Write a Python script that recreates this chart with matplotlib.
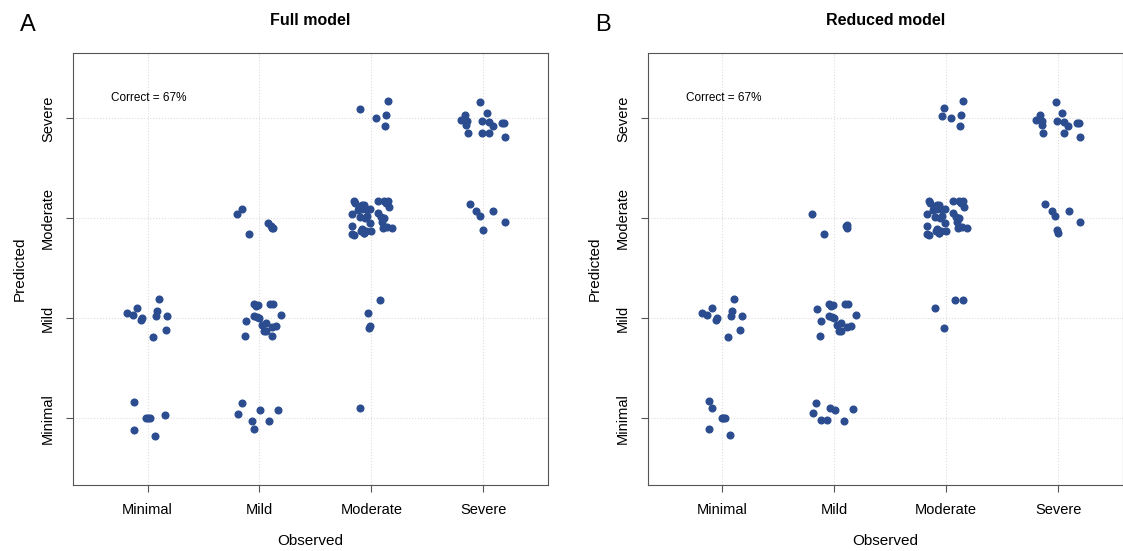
import matplotlib.pyplot as plt

plt.rcParams["font.family"] = ["Liberation Sans", "DejaVu Sans"]

categories = ["Minimal", "Mild", "Moderate", "Severe"]

# jitter offsets (dx, dy) per cell (observed, predicted)
full_model = {
    (1, 1): [(-.12, .167), (0, 0), (.02, 0), (-.015, 0), (.155, .033), (-.12, -.113), (.063, -.173)],
    (1, 2): [(-.18, .053), (-.134, .033), (-.096, .1), (-.05, .007), (-.054, -.02), (.104, .19),
             (.087, .07), (.072, .02), (.176, .027), (.161, -.12), (.051, -.19)],
    (2, 1): [(-.158, .153), (-.191, .047), (.009, .083), (.17, .087), (-.066, -.023), (.087, -.027), (-.051, -.11)],
    (2, 2): [(-.048, .14), (-.03, .123), (-.015, .133), (.093, .14), (.125, .147), (-.116, -.023),
             (-.051, .02), (-.018, .01), (-.003, .003), (.194, .033), (.021, -.07), (.057, -.043),
             (.039, -.127), (.06, -.13), (.113, -.087), (.146, -.077), (-.128, -.173), (.11, -.18)],
    (2, 3): [(-.197, .043), (-.152, .097), (-.096, -.16), (.075, -.047), (.104, -.073), (.119, -.093), (.11, -.1)],
    (3, 1): [(-.104, .1)],
    (3, 2): [(.08, .18), (-.027, .053), (-.015, -.08), (-.018, -.097)],
    (3, 3): [(-.155, .17), (-.143, .157), (-.11, .117), (-.087, .13), (-.069, .137), (-.122, .083),
             (-.081, .09), (-.051, .09), (-.015, .09), (.06, .17), (.11, .177), (.146, .17),
             (.158, .117), (.134, .15), (-.173, .04), (-.104, .017), (-.054, .007), (-.036, .023),
             (.057, .057), (.084, .01), (.11, .007), (-.015, -.05), (-.173, -.077), (-.081, -.107),
             (-.093, -.123), (-.069, -.143), (-.045, -.127), (0, -.127), (-.158, -.163),
             (-.173, -.16), (.104, -.097), (.137, -.09), (.182, -.093), (.096, -.04), (-.063, -.15)],
    (3, 4): [(-.104, .093), (.149, .17), (.042, 0), (.134, .033), (.122, -.073)],
    (4, 3): [(-.116, .14), (-.06, .073), (-.027, .02), (.09, .073), (-.003, -.12), (.194, -.037)],
    (4, 4): [(-.024, .163), (-.161, .033), (.036, .053), (-.197, -.017), (-.146, -.023), (-.149, -.063),
             (-.006, -.027), (.054, -.033), (.087, -.08), (.167, -.05), (.188, -.047), (-.134, -.147),
             (-.012, -.147), (.054, -.143), (.194, -.183)],
}

reduced_model = dict(full_model)
reduced_model.update({
    (1, 1): [(-.122, .17), (-.096, .1), (-.003, 0), (.021, 0), (.003, 0), (-.119, -.11), (.063, -.17)],
    (2, 1): [(-.161, .157), (-.194, .05), (-.039, .107), (.009, .087), (.17, .09), (-.116, -.02),
             (-.069, -.02), (.087, -.023)],
    (2, 2): full_model[(2, 2)][:-1] + [(-.152, .097)],
    (2, 3): [(-.197, .047), (-.096, -.157), (.107, -.077), (.116, -.097), (.11, -.067)],
    (3, 1): [],
    (3, 2): [(-.104, .103), (.081, .183), (.149, .183), (-.021, -.097)],
    (3, 4): [(-.018, .103), (.149, .17), (-.042, .023), (.039, .003), (.131, .033), (.122, -.073)],
    (4, 3): [(-.116, .14), (-.057, .073), (-.027, .02), (.093, .073), (-.006, -.12), (-.003, -.143), (.197, -.037)],
    (4, 4): [(-.021, .163), (-.158, .033), (.039, .053), (-.194, -.017), (-.143, -.023), (-.146, -.063),
             (-.006, -.027), (.054, -.033), (.087, -.08), (.17, -.05), (.191, -.047), (-.131, -.147),
             (.057, -.143), (.197, -.183)],
})

panels = [("A", "Full model", full_model, 0.065), ("B", "Reduced model", reduced_model, 0.577)]
color = "#2b4d8f"

fig = plt.figure(figsize=(11.23, 5.51), dpi=100)
for letter, title, cells, left in panels:
    ax = fig.add_axes([left, 0.12, 0.423, 0.784])
    xs, ys = [], []
    for (o, p), offs in cells.items():
        for dx, dy in offs:
            xs.append(o + dx)
            ys.append(p + dy)
    ax.plot(xs, ys, "o", color=color, markersize=4.8, zorder=3)
    ax.set_xlim(0.334, 4.58)
    ax.set_ylim(0.333, 4.656)
    ax.set_xticks(range(1, 5))
    ax.set_xticklabels(categories, fontsize=10.5)
    ax.set_yticks(range(1, 5))
    ax.set_yticklabels(categories, fontsize=10.5, rotation=90, va="center")
    ax.grid(True, color="#dddddd", linestyle=":", linewidth=0.8)
    for s in ax.spines.values():
        s.set_color("#555555")
    ax.tick_params(length=5, pad=8, color="#555555")
    ax.set_xlabel("Observed", fontsize=11, labelpad=12)
    ax.set_ylabel("Predicted", fontsize=11, labelpad=10)
    ax.set_title(title, fontsize=11.5, fontweight="bold", pad=20)
    ax.text(0.08, 0.896, "Correct = 67%", transform=ax.transAxes, fontsize=8.5, va="center")
    fig.text(left - 0.047, 0.955, letter, fontsize=17, va="center")

fig.savefig("out.png", dpi=100)
